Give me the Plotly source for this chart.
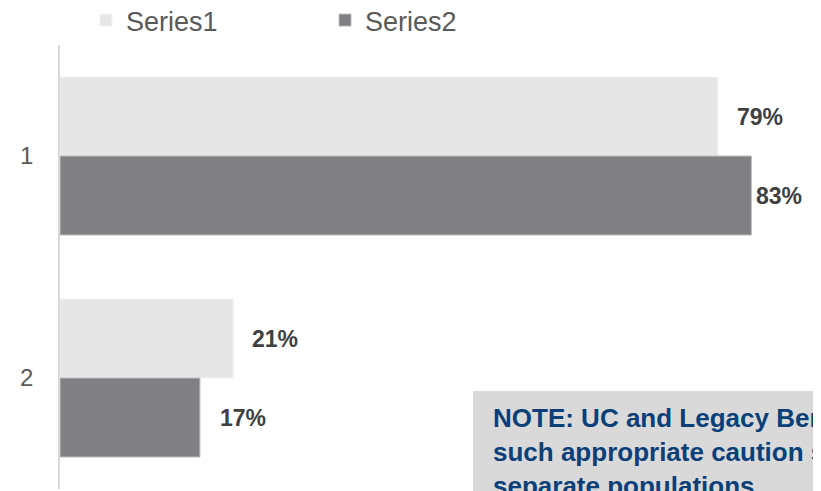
import plotly.graph_objects as go

# ---- data ----
categories = ["1", "2"]
series_names = ["Series1", "Series2"]
series1_values = [0.79, 0.208]
series2_values = [0.83, 0.168]
note_lines = [
    "NOTE: UC and Legacy Berkeley results should be compared with",
    "such appropriate caution since they represent",
    "separate populations.",
]

# ---- styling ----
W, H = 821, 491
OFF = 8                      # page body margin offset of the figure div
PX_PER_UNIT = 833.0          # px per 1.0 (100 %)
PLOT_LEFT, PLOT_TOP, PLOT_BOTTOM = 60, 45, 489   # page coordinates
ML = PLOT_LEFT - OFF
MT = PLOT_TOP - OFF
MB = H - (PLOT_BOTTOM - OFF)
MR = 0
plot_w = W - ML - MR
plot_h = H - MT - MB
XMAX = plot_w / PX_PER_UNIT

colors = ["#e6e6e6", "#808084"]
edge_colors = ["#f4f4f4", "#bdbdbd"]
label_gaps = [[17, 17], [3, 18]]   # px gap between bar end and label (per series, per category)
BAR_PX = 79


def px_to_paper_x(px):   # page px -> paper
    return (px - OFF - ML) / plot_w


def px_to_paper_y(py):   # page px -> paper
    return (H - MB - (py - OFF)) / plot_h


fig = go.Figure()
for name, vals, col, ec in zip(series_names, [series1_values, series2_values], colors, edge_colors):
    fig.add_trace(go.Bar(
        name=name, y=categories, x=vals, orientation="h",
        marker=dict(color=col, line=dict(color=ec, width=1)),
        hoverinfo="skip",
    ))

# data labels
for si, vals in enumerate([series1_values, series2_values]):
    yshift = BAR_PX / 2 if si == 0 else -BAR_PX / 2
    for ci, v in enumerate(vals):
        fig.add_annotation(
            x=v, y=ci, xref="x", yref="y", text=f"{v:.0%}",
            showarrow=False, xanchor="left", yanchor="middle",
            xshift=label_gaps[si][ci], yshift=yshift,
            font=dict(family="Liberation Sans, Arial, sans-serif", size=23, color="#404040", weight="bold"),
        )

# note box
fig.add_shape(
    type="rect", xref="paper", yref="paper",
    x0=px_to_paper_x(473), x1=px_to_paper_x(W + 300),
    y0=px_to_paper_y(391), y1=px_to_paper_y(H + 200),
    fillcolor="#d9d9d9", line=dict(width=0), layer="above",
)
fig.add_annotation(
    xref="paper", yref="paper",
    x=px_to_paper_x(491), y=px_to_paper_y(401),
    xanchor="left", yanchor="top", align="left", showarrow=False,
    text="<br>".join(note_lines),
    font=dict(family="Liberation Sans, Arial, sans-serif", size=26, color="#0b3f78", weight="bold"),
)

fig.update_layout(
    width=W, height=H, autosize=False,
    margin=dict(l=ML, r=MR, t=MT, b=MB, pad=0, autoexpand=False),
    paper_bgcolor="white", plot_bgcolor="white",
    barmode="group", bargap=0.288, bargroupgap=0,
    font=dict(family="Liberation Sans, Arial, sans-serif", color="#595959"),
    legend=dict(
        orientation="h", xref="paper", yref="paper",
        x=px_to_paper_x(86), y=px_to_paper_y(-4), xanchor="left", yanchor="top",
        font=dict(size=27, color="#595959"),
        entrywidth=194, itemwidth=30, bgcolor="rgba(0,0,0,0)",
        traceorder="normal",
    ),
    xaxis=dict(range=[0, XMAX], visible=False, fixedrange=True),
    yaxis=dict(
        type="category", range=[1.5, -0.5], showgrid=False, zeroline=False,
        showline=True, linecolor="#d9d9d9", linewidth=1.5,
        ticks="", ticklabelstandoff=20,
        tickfont=dict(size=24, color="#595959"),
    ),
    showlegend=True,
)

fig.write_html("out.html")
